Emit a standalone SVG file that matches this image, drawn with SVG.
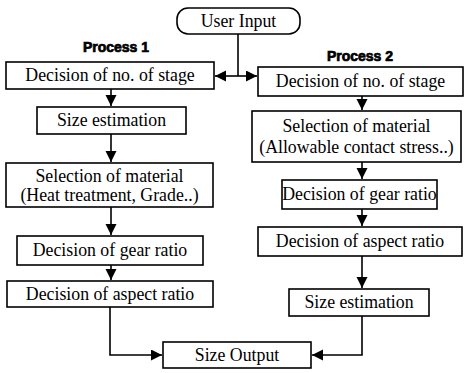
<svg xmlns="http://www.w3.org/2000/svg" width="467" height="373" viewBox="0 0 467 373">
<style>
.box{fill:#fff;stroke:#000;stroke-width:1.6}
.t{font-family:"Liberation Serif","Times New Roman",serif;font-size:17.8px;text-anchor:middle;fill:#000}
.h{font-family:"Liberation Sans",Arial,sans-serif;font-size:14px;font-weight:bold;text-anchor:middle;fill:#000;stroke:#000;stroke-width:0.7}
.c{fill:none;stroke:#000;stroke-width:1.6}
</style>
<defs>
<marker id="ah" markerUnits="userSpaceOnUse" markerWidth="12" markerHeight="12" refX="11" refY="5.5" orient="auto">
<path d="M0,0 L11,5.5 L0,11 Z" fill="#000"/>
</marker>
</defs>
<rect width="467" height="373" fill="#fff"/>
<g id="connectors">
<path class="c" d="M238,34 V76"/>
<path class="c" d="M238,76 H215" marker-end="url(#ah)"/>
<path class="c" d="M238,76 H257" marker-end="url(#ah)"/>
<path class="c" d="M111,89 V106" marker-end="url(#ah)"/>
<path class="c" d="M111,134 V162" marker-end="url(#ah)"/>
<path class="c" d="M111,207 V235" marker-end="url(#ah)"/>
<path class="c" d="M111,265 V280" marker-end="url(#ah)"/>
<path class="c" d="M362,96 V110" marker-end="url(#ah)"/>
<path class="c" d="M362,162 V179" marker-end="url(#ah)"/>
<path class="c" d="M362,209 V226" marker-end="url(#ah)"/>
<path class="c" d="M362,256 V288" marker-end="url(#ah)"/>
<path class="c" d="M110,307 V355 H162" marker-end="url(#ah)"/>
<path class="c" d="M362,316 V355 H312" marker-end="url(#ah)"/>
</g>
<g id="user-input">
<rect class="box" x="177" y="8" width="123" height="26" rx="11"/>
<text class="t" x="238.5" y="27">User Input</text>
</g>
<g id="label-p1"><text class="h" x="116" y="52">Process 1</text></g>
<g id="label-p2"><text class="h" x="360" y="61">Process 2</text></g>
<g id="l1">
<rect class="box" x="6" y="62" width="208" height="27"/>
<text class="t" x="110" y="81">Decision of no. of stage</text>
</g>
<g id="l2">
<rect class="box" x="37" y="107" width="149" height="27"/>
<text class="t" x="111.5" y="126">Size estimation</text>
</g>
<g id="l3">
<rect class="box" x="6" y="163" width="207" height="44"/>
<text class="t" x="109.5" y="182">Selection of material</text>
<text class="t" x="109.5" y="201">(Heat treatment, Grade..)</text>
</g>
<g id="l4">
<rect class="box" x="17" y="236" width="186" height="29"/>
<text class="t" x="110" y="256">Decision of gear ratio</text>
</g>
<g id="l5">
<rect class="box" x="7" y="281" width="206" height="26"/>
<text class="t" x="110" y="300">Decision of aspect ratio</text>
</g>
<g id="r1">
<rect class="box" x="258" y="67" width="205" height="29"/>
<text class="t" x="360.5" y="87">Decision of no. of stage</text>
</g>
<g id="r2">
<rect class="box" x="252" y="111" width="209" height="51"/>
<text class="t" x="356.5" y="132">Selection of material</text>
<text class="t" x="356.5" y="153">(Allowable contact stress..)</text>
</g>
<g id="r3">
<rect class="box" x="282" y="180" width="155" height="29"/>
<text class="t" x="359.5" y="200">Decision of gear ratio</text>
</g>
<g id="r4">
<rect class="box" x="258" y="227" width="204" height="29"/>
<text class="t" x="360" y="247">Decision of aspect ratio</text>
</g>
<g id="r5">
<rect class="box" x="289" y="289" width="140" height="27"/>
<text class="t" x="359" y="308">Size estimation</text>
</g>
<g id="size-output">
<rect class="box" x="163" y="342" width="148" height="26"/>
<text class="t" x="237" y="361">Size Output</text>
</g>
</svg>
